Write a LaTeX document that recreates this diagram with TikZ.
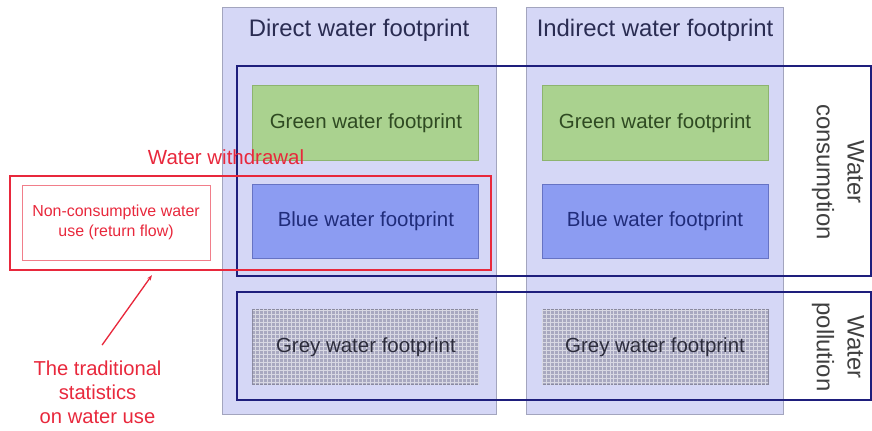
\documentclass[tikz,border=0pt]{standalone}
\usepackage{fontspec}
\setmainfont{Liberation Sans}
\usetikzlibrary{arrows.meta,patterns}
\definecolor{WFColumn}{HTML}{D5D7F6}
\definecolor{WFColLine}{HTML}{A3A5BE}
\definecolor{WFGreen}{HTML}{AAD28F}
\definecolor{WFGreenLine}{HTML}{8DB46F}
\definecolor{WFGreenText}{HTML}{2F4A22}
\definecolor{WFBlue}{HTML}{8C9CF2}
\definecolor{WFBlueLine}{HTML}{6673C4}
\definecolor{WFBlueText}{HTML}{202C7A}
\definecolor{WFGrey}{HTML}{A8A8C0}
\definecolor{WFGreyLine}{HTML}{8A8AA0}
\definecolor{WFGreyText}{HTML}{2C2C3C}
\definecolor{WFNavy}{HTML}{1E1E7C}
\definecolor{WFRed}{HTML}{E8283C}
\definecolor{WFText}{HTML}{2A2C52}

\begin{document}
\begin{tikzpicture}[x=1cm,y=1cm,
  column/.style={draw=WFColLine,fill=WFColumn,line width=0.8pt,minimum height=10.75cm,inner sep=0pt},
  fpbox/.style={line width=0.8pt,minimum width=5.98cm,minimum height=1.98cm,inner sep=0pt,
    font=\fontsize{15.4}{18}\selectfont},
  greenbox/.style={fpbox,draw=WFGreenLine,fill=WFGreen,text=WFGreenText},
  bluebox/.style={fpbox,draw=WFBlueLine,fill=WFBlue,text=WFBlueText},
  greybox/.style={fpbox,draw=WFGreyLine,fill=WFGrey,text=WFGreyText,
    postaction={pattern=grid,pattern color=white!55!WFGrey}},
  outline/.style={draw=WFNavy,line width=1.5pt,minimum width=16.78cm,inner sep=0pt},
  sidelabel/.style={rotate=-90,align=center,font=\fontsize{18}{23}\selectfont,text=black!75},
  redtext/.style={text=WFRed,align=center}]
\path[use as bounding box] (0,0) rectangle (23.07,11.38);
% columns
\node[column,minimum width=7.25cm] (direct) at (9.50,5.80) {};
\node[column,minimum width=6.82cm] (indirect) at (17.33,5.80) {};
\node[text=WFText,font=\fontsize{18}{22}\selectfont] (directtitle) at (9.50,10.58) {Direct water footprint};
\node[text=WFText,font=\fontsize{18}{22}\selectfont] (indirecttitle) at (17.33,10.58) {Indirect water footprint};
% footprint boxes
\node[greenbox] (dgreen) at (9.68,8.12) {Green water footprint};
\node[greenbox] (igreen) at (17.33,8.12) {Green water footprint};
\node[bluebox] (dblue) at (9.68,5.52) {Blue water footprint};
\node[bluebox] (iblue) at (17.33,5.52) {Blue water footprint};
\node[greybox] (dgrey) at (9.68,2.19) {Grey water footprint};
\node[greybox] (igrey) at (17.33,2.19) {Grey water footprint};
% consumption / pollution
\node[outline,minimum height=5.56cm] (consumption) at (14.66,6.85) {};
\node[outline,minimum height=2.86cm] (pollution) at (14.66,2.22) {};
\node[sidelabel] (conslabel) at (22.17,6.83) {Water\\consumption};
\node[sidelabel] (pollabel) at (22.17,2.20) {Water\\pollution};
% withdrawal
\node[draw=WFRed,line width=1.6pt,minimum width=12.73cm,minimum height=2.49cm,inner sep=0pt] (withdrawal) at (6.625,5.475) {};
\node[draw=WFRed!60,line width=0.6pt,minimum width=4.98cm,minimum height=1.98cm,inner sep=0pt,
  redtext,font=\fontsize{12}{15}\selectfont] (returnflow) at (3.07,5.49) {Non-consumptive water\\use (return flow)};
\node[redtext,font=\fontsize{15.4}{18}\selectfont] (withlabel) at (5.98,7.22) {Water withdrawal};
\node[redtext,font=\fontsize{15.2}{18}\selectfont] (traditional) at (2.58,1.01) {The traditional\\statistics\\on water use};
\coordinate (tail) at (2.70,2.25);
\coordinate (tip) at (4.02,4.10);
\draw[WFRed,line width=1pt,-{Stealth[length=4pt,width=3pt]}] (tail) -- (tip);
\end{tikzpicture}
\end{document}
